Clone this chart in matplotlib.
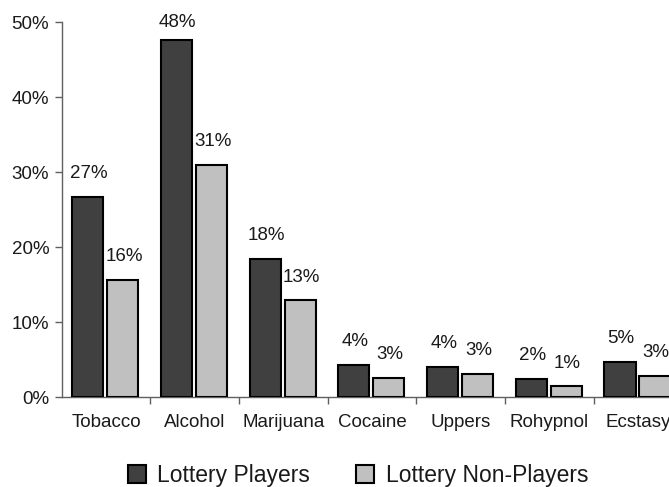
import matplotlib
matplotlib.use("Agg")
import matplotlib.pyplot as plt
import numpy as np
from matplotlib.patches import Patch
from matplotlib.transforms import offset_copy

categories = ["Tobacco", "Alcohol", "Marijuana", "Cocaine", "Uppers", "Rohypnol", "Ecstasy"]
players = [26.7, 47.6, 18.4, 4.3, 4.0, 2.4, 4.7]
non_players = [15.6, 31.0, 12.9, 2.6, 3.1, 1.45, 2.8]
series_names = ["Lottery Players", "Lottery Non-Players"]
yticks = [0, 10, 20, 30, 40, 50]

plt.rcParams['font.family'] = ['Liberation Sans', 'DejaVu Sans']

fig = plt.figure(figsize=(6.69, 4.87), dpi=100)
ax = fig.add_axes([0.0922, 0.1842, 0.928, 0.7706])

x = np.arange(len(categories))
w = 0.35
dark = "#404040"
light = "#c0c0c0"
b1 = ax.bar(x - 0.205, players, w, color=dark, edgecolor="black", linewidth=1.5, zorder=3)
b2 = ax.bar(x + 0.19, non_players, w, color=light, edgecolor="black", linewidth=1.5, zorder=3)

ax.set_xlim(-0.5, len(categories) - 0.5)
ax.set_ylim(0, 50)

offset_px = 23.4
px_per_unit = ax.get_position().height * fig.get_figheight() * fig.dpi / 50.0
for bars, vals in ((b1, players), (b2, non_players)):
    for rect, v in zip(bars, vals):
        ytxt = min(rect.get_height() + offset_px / px_per_unit, 50.0)
        ax.text(rect.get_x() + rect.get_width() / 2 + 0.012, ytxt, f"{v:.0f}%",
                ha="center", va="center", fontsize=13.5, color="#1a1a1a")

ax.set_yticks(yticks)
ax.set_yticklabels([f"{t}%" for t in yticks], fontsize=13.5, color="#1a1a1a")
ax.set_xticks(x)
ax.set_xticklabels(categories, fontsize=13.5, color="#1a1a1a")
ax.tick_params(axis="x", which="major", length=0, pad=12)
ax.set_xticks(np.arange(0.5, len(categories) - 0.5, 1), minor=True)
ax.tick_params(axis="x", which="minor", length=5, width=1, color="#606060", direction="out")
ax.tick_params(axis="y", length=5, width=1, color="#606060", direction="out", pad=4)

for s in ("top", "right"):
    ax.spines[s].set_visible(False)
for s in ("left", "bottom"):
    ax.spines[s].set_color("#606060")
    ax.spines[s].set_linewidth(1)

handles = [Patch(facecolor=dark, edgecolor="black", linewidth=1.5),
           Patch(facecolor=light, edgecolor="black", linewidth=1.5)]
fig.legend(handles, series_names, loc="center", bbox_to_anchor=(0.535, 0.024), ncol=2,
           frameon=False, fontsize=16.5, handlelength=0.8, handleheight=0.8,
           handletextpad=0.5, columnspacing=2.0, labelcolor="#1a1a1a")

fig.savefig("out.png", dpi=100)
